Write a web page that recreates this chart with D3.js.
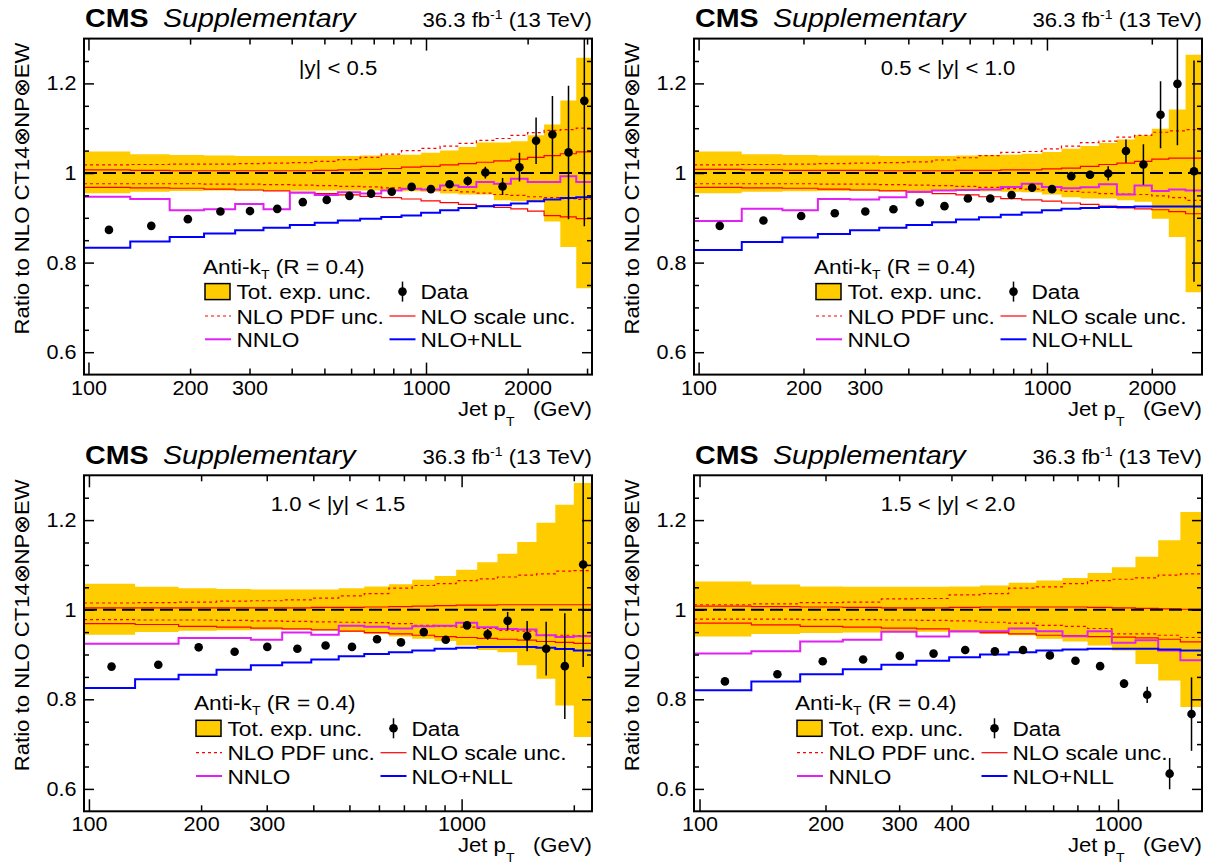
<!DOCTYPE html>
<html><head><meta charset="utf-8">
<script src="https://cdn.jsdelivr.net/npm/d3@7"></script>
<style>
body{margin:0;background:#fff}
svg{display:block}
text{font-family:"Liberation Sans",Arial,Helvetica,sans-serif;fill:#000;white-space:pre}
</style>
</head><body>
<svg id="c" width="1212" height="867"></svg>
<script>
// ---------------- data ----------------
const binEdges = [97,133,174,220,272,330,395,468,548,638,737,846,967,1101,1248,1410,1588,1784,2000,2238,2500,2787,3103];

const rapidityLabels = ["|y| < 0.5", "0.5 < |y| < 1.0", "1.0 < |y| < 1.5", "1.5 < |y| < 2.0"];
const xMaxByPanel = [3103, 2787, 2238, 1588];

const yTickAll = [0.6,0.65,0.7,0.75,0.8,0.85,0.9,0.95,1.0,1.05,1.1,1.15,1.2,1.25];
const yTickLabels = {"0.6":"0.6","0.8":"0.8","1":"1","1.2":"1.2"};
const xTickAll = [100,200,300,400,500,600,700,800,900,1000,2000,3000];
const xTickMajor = [100,1000];
const xTickLabelSets = [[100,200,300,1000,2000],[100,200,300,1000,2000],[100,200,300,1000],[100,200,300,400,1000]];

// |y| < 0.5
const data1 = [0.873,0.882,0.897,0.914,0.915,0.920,0.935,0.940,0.949,0.954,0.958,0.969,0.964,0.975,0.982,1.001,0.970,1.013,1.072,1.086,1.046,1.161];
const err1 = [0.003,0.003,0.003,0.003,0.003,0.003,0.003,0.003,0.003,0.003,0.003,0.004,0.004,0.005,0.010,0.013,0.019,0.032,0.052,0.086,0.149,0.280];
const bandUp1 = [1.048,1.042,1.040,1.039,1.038,1.038,1.038,1.038,1.038,1.039,1.040,1.041,1.045,1.050,1.058,1.068,1.068,1.071,1.084,1.108,1.162,1.257];
const bandDn1 = [0.955,0.958,0.960,0.961,0.961,0.961,0.961,0.961,0.961,0.961,0.960,0.959,0.958,0.954,0.952,0.952,0.939,0.937,0.937,0.892,0.835,0.743];
const pdfUp1 = [1.018,1.019,1.020,1.020,1.021,1.022,1.023,1.026,1.030,1.035,1.042,1.050,1.055,1.060,1.066,1.073,1.077,1.084,1.090,1.095,1.097,1.100];
const pdfDn1 = [0.976,0.976,0.976,0.975,0.975,0.974,0.973,0.972,0.970,0.969,0.967,0.965,0.963,0.961,0.958,0.955,0.952,0.950,0.947,0.945,0.943,0.941];
const scaleUp1 = [1.007,1.006,1.005,1.005,1.005,1.005,1.005,1.006,1.007,1.008,1.010,1.013,1.015,1.018,1.021,1.024,1.027,1.031,1.035,1.039,1.043,1.047];
const scaleDn1 = [0.968,0.967,0.966,0.964,0.962,0.960,0.957,0.954,0.951,0.948,0.945,0.942,0.938,0.934,0.930,0.926,0.923,0.920,0.915,0.905,0.902,0.898];
const nnlo1 = [0.947,0.942,0.917,0.919,0.931,0.919,0.956,0.951,0.957,0.954,0.961,0.965,0.963,0.972,0.969,0.980,0.976,0.987,0.980,0.980,0.993,0.980];
const nll1 = [0.833,0.847,0.857,0.865,0.872,0.878,0.884,0.889,0.894,0.898,0.902,0.905,0.911,0.917,0.922,0.926,0.928,0.932,0.937,0.941,0.944,0.946];

// 0.5 < |y| < 1.0
const data2 = [0.882,0.894,0.904,0.910,0.914,0.919,0.934,0.926,0.943,0.943,0.951,0.967,0.964,0.993,0.996,0.999,1.049,1.019,1.130,1.199,1.004];
const err2 = [0.003,0.003,0.003,0.003,0.003,0.003,0.003,0.003,0.003,0.003,0.003,0.004,0.004,0.005,0.009,0.016,0.026,0.045,0.075,0.137,0.247];
const bandUp2 = [1.048,1.042,1.040,1.039,1.039,1.038,1.038,1.038,1.039,1.040,1.041,1.043,1.047,1.054,1.060,1.067,1.075,1.084,1.099,1.142,1.264];
const bandDn2 = [0.955,0.958,0.959,0.960,0.960,0.960,0.960,0.960,0.960,0.959,0.958,0.957,0.952,0.946,0.943,0.943,0.939,0.936,0.898,0.857,0.734];
const pdfUp2 = [1.018,1.019,1.020,1.021,1.022,1.023,1.025,1.029,1.034,1.039,1.046,1.048,1.054,1.060,1.068,1.071,1.080,1.084,1.091,1.094,1.097];
const pdfDn2 = [0.976,0.976,0.976,0.975,0.975,0.974,0.973,0.972,0.970,0.968,0.965,0.964,0.962,0.959,0.957,0.954,0.953,0.952,0.949,0.945,0.939];
const scaleUp2 = [1.008,1.007,1.006,1.006,1.006,1.005,1.005,1.005,1.006,1.006,1.007,1.007,1.009,1.011,1.015,1.019,1.022,1.026,1.031,1.033,1.033];
const scaleDn2 = [0.968,0.967,0.966,0.964,0.962,0.960,0.957,0.954,0.951,0.947,0.943,0.940,0.937,0.933,0.930,0.926,0.922,0.920,0.918,0.914,0.909];
const nnlo2 = [0.893,0.920,0.917,0.942,0.941,0.946,0.958,0.961,0.962,0.963,0.969,0.976,0.969,0.966,0.968,0.975,0.952,0.972,0.960,0.963,0.961];
const nll2 = [0.828,0.846,0.856,0.864,0.872,0.878,0.884,0.890,0.896,0.901,0.907,0.912,0.917,0.920,0.922,0.924,0.924,0.925,0.925,0.925,0.925];

// 1.0 < |y| < 1.5
const data3 = [0.873,0.877,0.916,0.906,0.917,0.913,0.920,0.917,0.934,0.927,0.950,0.933,0.965,0.945,0.975,0.941,0.913,0.874,1.101];
const err3 = [0.003,0.003,0.003,0.003,0.003,0.003,0.003,0.003,0.003,0.003,0.004,0.004,0.006,0.012,0.020,0.034,0.060,0.118,0.229];
const bandUp3 = [1.058,1.051,1.048,1.046,1.045,1.045,1.045,1.048,1.052,1.057,1.067,1.075,1.089,1.106,1.125,1.151,1.194,1.234,1.283];
const bandDn3 = [0.944,0.950,0.953,0.954,0.955,0.955,0.954,0.951,0.946,0.940,0.935,0.930,0.920,0.910,0.905,0.876,0.846,0.786,0.716];
const pdfUp3 = [1.015,1.016,1.017,1.019,1.020,1.022,1.026,1.031,1.036,1.048,1.054,1.058,1.065,1.069,1.073,1.077,1.080,1.086,1.087];
const pdfDn3 = [0.978,0.977,0.977,0.976,0.975,0.974,0.973,0.972,0.971,0.969,0.965,0.963,0.961,0.958,0.954,0.952,0.943,0.943,0.942];
const scaleUp3 = [1.004,1.004,1.004,1.004,1.004,1.004,1.005,1.005,1.006,1.007,1.008,1.009,1.010,1.010,1.011,1.011,1.011,1.011,1.011];
const scaleDn3 = [0.969,0.967,0.963,0.961,0.959,0.957,0.955,0.952,0.949,0.946,0.943,0.940,0.938,0.936,0.934,0.932,0.929,0.927,0.925];
const nnlo3 = [0.924,0.924,0.937,0.937,0.933,0.949,0.944,0.964,0.962,0.958,0.963,0.964,0.971,0.961,0.957,0.956,0.943,0.939,0.941];
const nll3 = [0.825,0.845,0.855,0.866,0.876,0.882,0.889,0.896,0.901,0.905,0.909,0.913,0.915,0.917,0.917,0.917,0.915,0.912,0.909];

// 1.5 < |y| < 2.0
const data4 = [0.840,0.856,0.885,0.889,0.897,0.902,0.910,0.907,0.910,0.898,0.886,0.874,0.835,0.810,0.634,0.767];
const err4 = [0.003,0.003,0.003,0.003,0.003,0.003,0.003,0.003,0.003,0.004,0.004,0.005,0.009,0.018,0.035,0.082];
const bandUp4 = [1.063,1.056,1.052,1.051,1.051,1.051,1.052,1.054,1.060,1.065,1.071,1.082,1.095,1.118,1.155,1.218];
const bandDn4 = [0.940,0.946,0.948,0.949,0.950,0.951,0.952,0.946,0.943,0.935,0.929,0.920,0.909,0.879,0.842,0.783];
const pdfUp4 = [1.011,1.013,1.016,1.017,1.024,1.025,1.033,1.036,1.048,1.051,1.058,1.065,1.068,1.071,1.077,1.080];
const pdfDn4 = [0.979,0.979,0.978,0.978,0.977,0.976,0.975,0.972,0.970,0.965,0.963,0.958,0.946,0.946,0.943,0.938];
const scaleUp4 = [1.008,1.007,1.006,1.005,1.004,1.004,1.005,1.006,1.006,1.006,1.006,1.005,1.004,1.003,1.002,1.001];
const scaleDn4 = [0.970,0.966,0.963,0.961,0.959,0.957,0.951,0.949,0.946,0.943,0.942,0.940,0.939,0.937,0.934,0.928];
const nnlo4 = [0.902,0.907,0.929,0.933,0.951,0.940,0.952,0.952,0.958,0.952,0.941,0.952,0.926,0.932,0.909,0.887];
const nll4 = [0.820,0.840,0.856,0.867,0.877,0.886,0.894,0.900,0.905,0.909,0.911,0.913,0.913,0.913,0.911,0.909];

// ---------------- layout ----------------
const panels = [
  {x0:84,  x1:592,  y0:38.6,  y1:374.6, leg:119, d:[data1,err1,bandUp1,bandDn1,pdfUp1,pdfDn1,scaleUp1,scaleDn1,nnlo1,nll1]},
  {x0:694, x1:1202, y0:38.6,  y1:374.6, leg:120, d:[data2,err2,bandUp2,bandDn2,pdfUp2,pdfDn2,scaleUp2,scaleDn2,nnlo2,nll2]},
  {x0:84,  x1:592,  y0:475.3, y1:811.3, leg:110, d:[data3,err3,bandUp3,bandDn3,pdfUp3,pdfDn3,scaleUp3,scaleDn3,nnlo3,nll3]},
  {x0:694, x1:1202, y0:475.3, y1:811.3, leg:101, d:[data4,err4,bandUp4,bandDn4,pdfUp4,pdfDn4,scaleUp4,scaleDn4,nnlo4,nll4]}
];

const C = {band:"#ffcc00", red:"#ff0000", nnlo:"#e020f4", nll:"#0000ff"};
const SX = 1.08;
const svg = d3.select("#c");

function rich(parent, x, y, parts, size, anchor, extra) {
  const g = parent.append("g").attr("transform", `translate(${x},${y}) scale(${SX},1)`);
  const t = g.append("text").attr("font-size", size).attr("text-anchor", anchor || "start");
  if (extra) Object.entries(extra).forEach(([k,v]) => t.attr(k, v));
  let shift = 0;
  parts.forEach(p => {
    if (typeof p === "string") p = {t:p};
    const s = p.shift || 0;
    const ts = t.append("tspan").text(p.t).attr("dy", s - shift);
    if (p.size) ts.attr("font-size", p.size);
    if (p.weight) ts.attr("font-weight", p.weight);
    if (p.style) ts.attr("font-style", p.style);
    shift = s;
  });
  return g;
}

panels.forEach((P, pi) => {
  const [dat, err, bUp, bDn, pUp, pDn, sUp, sDn, nn, nl] = P.d;
  const n = dat.length;
  const edges = binEdges.slice(0, n + 1);
  const xs = d3.scaleLog().domain([97, xMaxByPanel[pi]]).range([P.x0, P.x1]);
  const ys = d3.scaleLinear().domain([0.55, 1.3]).range([P.y1, P.y0]);
  const g = svg.append("g");

  const clipId = "clip" + pi;
  svg.append("clipPath").attr("id", clipId).append("rect")
    .attr("x", P.x0).attr("y", P.y0).attr("width", P.x1 - P.x0).attr("height", P.y1 - P.y0);
  const plot = g.append("g").attr("clip-path", `url(#${clipId})`);

  const stepPts = arr => edges.map((e, i) => ({x:e, v:arr[Math.min(i, n - 1)]}));
  const bandPts = edges.map((e, i) => ({x:e, up:bUp[Math.min(i, n - 1)], dn:bDn[Math.min(i, n - 1)]}));

  plot.append("path").datum(bandPts)
    .attr("d", d3.area().x(d => xs(d.x)).y0(d => ys(d.dn)).y1(d => ys(d.up)).curve(d3.curveStepAfter))
    .attr("fill", C.band);

  const stepLine = d3.line().x(d => xs(d.x)).y(d => ys(d.v)).curve(d3.curveStepAfter);
  const drawStep = (arr, color, w, dash) => {
    const p = plot.append("path").datum(stepPts(arr)).attr("d", stepLine)
      .attr("fill", "none").attr("stroke", color).attr("stroke-width", w);
    if (dash) p.attr("stroke-dasharray", dash);
  };
  drawStep(pUp, C.red, 1.2, "3,3");
  drawStep(pDn, C.red, 1.2, "3,3");
  drawStep(sUp, C.red, 1.2);
  drawStep(sDn, C.red, 1.2);
  drawStep(nn, C.nnlo, 2);
  drawStep(nl, C.nll, 2);

  plot.append("line").attr("x1", P.x0).attr("x2", P.x1).attr("y1", ys(1)).attr("y2", ys(1))
    .attr("stroke", "#000").attr("stroke-width", 2).attr("stroke-dasharray", "13,6");

  const pts = dat.map((v, i) => ({x:(edges[i] + edges[i + 1]) / 2, v, e:err[i]}));
  plot.selectAll(".eb").data(pts).join("line")
    .attr("x1", d => xs(d.x)).attr("x2", d => xs(d.x))
    .attr("y1", d => ys(d.v - d.e)).attr("y2", d => ys(d.v + d.e))
    .attr("stroke", "#000").attr("stroke-width", 1.5);
  plot.selectAll(".pt").data(pts).join("circle")
    .attr("cx", d => xs(d.x)).attr("cy", d => ys(d.v)).attr("r", 4.3).attr("fill", "#000");

  // axes
  const xVals = xTickAll.filter(v => v <= xMaxByPanel[pi]);
  const labSet = new Set(xTickLabelSets[pi]);
  const majX = new Set(xTickMajor);
  const styleAxis = sel => { sel.attr("font-family", null).attr("font-size", null); sel.select(".domain").remove();
    sel.selectAll(".tick line").attr("stroke-width", 1.5); };
  const gb = g.append("g").attr("transform", `translate(0,${P.y1})`)
    .call(d3.axisBottom(xs).tickValues(xVals).tickSizeInner(-12).tickSizeOuter(0).tickPadding(6)
      .tickFormat(d => labSet.has(d) ? String(d) : ""));
  styleAxis(gb);
  gb.selectAll(".tick line").attr("y2", d => majX.has(d) ? -12 : -6);
  gb.selectAll(".tick text").attr("font-size", 20).attr("transform", `scale(${SX},1)`);

  const gt = g.append("g").attr("transform", `translate(0,${P.y0})`)
    .call(d3.axisTop(xs).tickValues(xVals).tickSizeInner(-12).tickSizeOuter(0).tickFormat(""));
  styleAxis(gt);
  gt.selectAll(".tick line").attr("y2", d => majX.has(d) ? 12 : 6);

  const isMajY = d => yTickLabels[String(d)] !== undefined;
  const gl = g.append("g").attr("transform", `translate(${P.x0},0)`)
    .call(d3.axisLeft(ys).tickValues(yTickAll).tickSizeInner(-10).tickSizeOuter(0).tickPadding(7)
      .tickFormat(d => yTickLabels[String(d)] || ""));
  styleAxis(gl);
  gl.selectAll(".tick line").attr("x2", d => isMajY(d) ? 10 : 5);
  gl.selectAll(".tick text").attr("font-size", 20).attr("transform", `scale(${SX},1)`);

  const gr = g.append("g").attr("transform", `translate(${P.x1},0)`)
    .call(d3.axisRight(ys).tickValues(yTickAll).tickSizeInner(-10).tickSizeOuter(0).tickFormat(""));
  styleAxis(gr);
  gr.selectAll(".tick line").attr("x2", d => isMajY(d) ? -10 : -5);

  g.append("rect").attr("x", P.x0).attr("y", P.y0).attr("width", P.x1 - P.x0).attr("height", P.y1 - P.y0)
    .attr("fill", "none").attr("stroke", "#000").attr("stroke-width", 2);

  // titles
  rich(g, P.x0 + 1, P.y0 - 11.5, [{t:"CMS", weight:"bold"}], 26.5);
  rich(g, P.x0 + 79, P.y0 - 11.5, [{t:"Supplementary", style:"italic"}], 26.5);
  rich(g, P.x1, P.y0 - 11.5, ["36.3 fb", {t:"-1", size:13, shift:-8}, {t:" (13 TeV)", shift:0}], 20.5, "end");
  rich(g, (P.x0 + P.x1) / 2, P.y0 + 36, [rapidityLabels[pi]], 20.5, "middle");

  // axis titles
  rich(g, P.x1, P.y1 + 41, ["Jet p", {t:"T", size:13, shift:10}, {t:"   (GeV)", shift:0}], 20.5, "end");
  const yt = g.append("g").attr("transform", `translate(${P.x0 - 55},${P.y0 + 4}) rotate(-90) scale(${SX},1)`);
  yt.append("text").attr("font-size", 20.5).attr("text-anchor", "end").text("Ratio to NLO CT14⊗NP⊗EW");

  // legend
  const lx = P.x0 + P.leg;
  const rowY = [P.y0 + 253, P.y0 + 277.4, P.y0 + 300.7];
  const tx1 = lx + 33.5, tx2 = tx1 + 184;
  rich(g, lx, P.y0 + 235, ["Anti-k", {t:"T", size:13, shift:5}, {t:" (R = 0.4)", shift:0}], 21);
  g.append("rect").attr("x", lx + 2).attr("y", rowY[0] - 8).attr("width", 25).attr("height", 16)
    .attr("fill", C.band).attr("stroke", "#000").attr("stroke-width", 1.5);
  rich(g, tx1, rowY[0] + 7.5, ["Tot. exp. unc."], 21);
  g.append("line").attr("x1", tx2 - 18).attr("x2", tx2 - 18).attr("y1", rowY[0] - 10).attr("y2", rowY[0] + 10)
    .attr("stroke", "#000").attr("stroke-width", 1.5);
  g.append("circle").attr("cx", tx2 - 18).attr("cy", rowY[0]).attr("r", 4.3).attr("fill", "#000");
  rich(g, tx2, rowY[0] + 7.5, ["Data"], 21);

  const legLine = (x1, x2, y, color, w, dash) => {
    const l = g.append("line").attr("x1", x1).attr("x2", x2).attr("y1", y).attr("y2", y)
      .attr("stroke", color).attr("stroke-width", w);
    if (dash) l.attr("stroke-dasharray", dash);
  };
  legLine(lx + 2, lx + 28, rowY[1], C.red, 1.2, "3,3");
  rich(g, tx1, rowY[1] + 7.5, ["NLO PDF unc."], 21);
  legLine(tx2 - 31, tx2 - 5, rowY[1], C.red, 1.2);
  rich(g, tx2, rowY[1] + 7.5, ["NLO scale unc."], 21);
  legLine(lx + 2, lx + 28, rowY[2], C.nnlo, 2);
  rich(g, tx1, rowY[2] + 7.5, ["NNLO"], 21);
  legLine(tx2 - 31, tx2 - 5, rowY[2], C.nll, 2);
  rich(g, tx2, rowY[2] + 7.5, ["NLO+NLL"], 21);
});
</script>
</body></html>
